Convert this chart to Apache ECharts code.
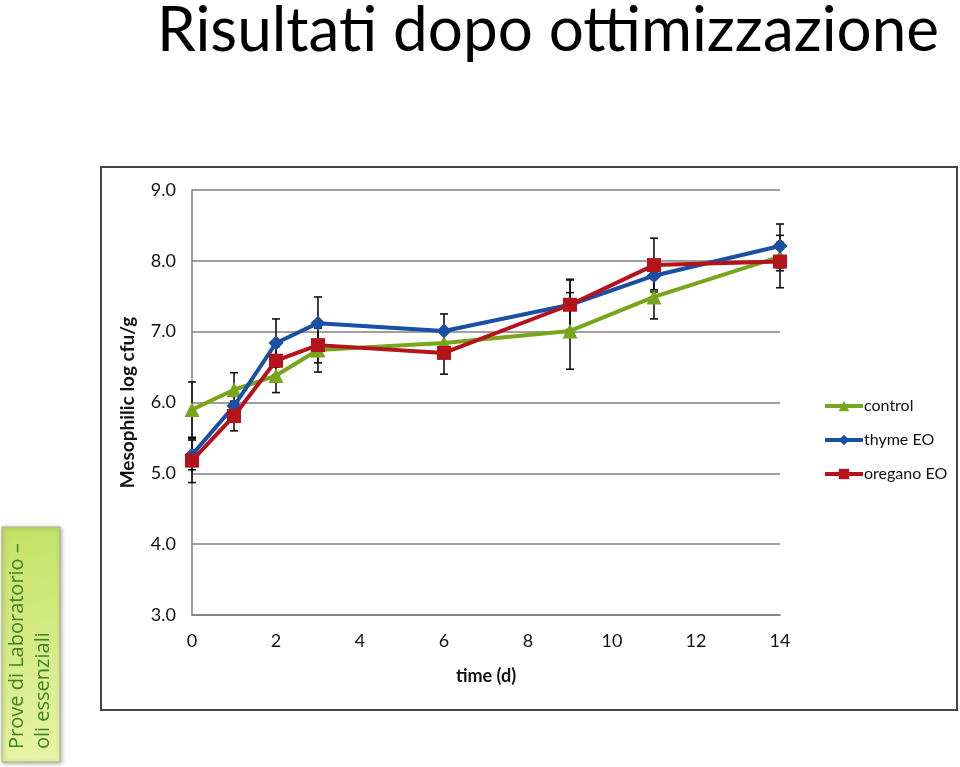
<!DOCTYPE html>
<html>
<head>
<meta charset="utf-8">
<script src="https://cdn.jsdelivr.net/npm/echarts@6/dist/echarts.min.js"></script>
<style>
html,body{margin:0;padding:0;background:#fff;}
#c{width:960px;height:767px;}
</style>
</head>
<body>
<div id="c"></div>
<script>
var days = [0, 1, 2, 3, 6, 9, 11, 14];
var controlVals = [5.90, 6.18, 6.38, 6.74, 6.84, 7.01, 7.49, 8.06];
var thymeVals   = [5.26, 5.95, 6.84, 7.12, 7.01, 7.38, 7.79, 8.21];
var oreganoVals = [5.18, 5.81, 6.59, 6.81, 6.70, 7.38, 7.94, 7.99];
var controlErr = [0.39, 0.24, 0.24, 0.31, 0.15, 0.54, 0.31, 0.20];
var thymeErr   = [0.21, 0.15, 0.34, 0.37, 0.24, 0.35, 0.20, 0.31];
var oreganoErr = [0.31, 0.21, 0.20, 0.25, 0.30, 0.36, 0.38, 0.37];
var seriesNames = ['control', 'thyme EO', 'oregano EO'];
var xTicks = [0, 2, 4, 6, 8, 10, 12, 14];
var yTicks = ['3.0', '4.0', '5.0', '6.0', '7.0', '8.0', '9.0'];

var colors = ['#77a51c', '#1a4fa6', '#b5121b'];
var symbols = ['triangle', 'diamond', 'rect'];
var symSizes = [15, 15, 14];

function pairs(vals) { return days.map(function (d, i) { return [d, vals[i]]; }); }
function errData(vals, errs) { return days.map(function (d, i) { return [d, vals[i], errs[i]]; }); }

function errSeries(vals, errs) {
  return {
    type: 'custom',
    data: errData(vals, errs),
    z: 1,
    silent: true,
    renderItem: function (params, api) {
      var x = api.value(0), y = api.value(1), e = api.value(2);
      var top = api.coord([x, y + e]);
      var bot = api.coord([x, y - e]);
      var hw = 4;
      var st = { stroke: '#111', lineWidth: 1.6 };
      return {
        type: 'group',
        children: [
          { type: 'line', shape: { x1: top[0], y1: top[1], x2: bot[0], y2: bot[1] }, style: st },
          { type: 'line', shape: { x1: top[0] - hw, y1: top[1], x2: top[0] + hw, y2: top[1] }, style: st },
          { type: 'line', shape: { x1: bot[0] - hw, y1: bot[1], x2: bot[0] + hw, y2: bot[1] }, style: st }
        ]
      };
    }
  };
}

function lineSeries(i, vals) {
  return {
    name: seriesNames[i],
    type: 'line',
    data: pairs(vals),
    z: 3 + i,
    symbol: symbols[i],
    symbolSize: symSizes[i],
    showAllSymbol: true,
    lineStyle: { color: colors[i], width: 4 },
    itemStyle: { color: colors[i] },
    emphasis: { disabled: true }
  };
}

var font = 'Lato, "Open Sans", sans-serif';
var chart = echarts.init(document.getElementById('c'), null, { renderer: 'canvas' });
chart.setOption({
  animation: false,
  backgroundColor: '#ffffff',
  color: colors,
  graphic: [
    { type: 'text', x: 157, y: 0, z: 10,
      style: { text: 'Risultati dopo ottimizzazione', font: '400 62px ' + font, fill: '#000', align: 'left', verticalAlign: 'top' } },
    { type: 'rect', shape: { x: 101, y: 167, width: 856, height: 543 },
      style: { fill: 'none', stroke: '#444', lineWidth: 2 }, z: -1 },
    { type: 'rect', shape: { x: 2, y: 527, width: 58, height: 235 },
      style: {
        fill: new echarts.graphic.LinearGradient(0, 0, 1, 1, [
          { offset: 0, color: '#c4e265' },
          { offset: 1, color: '#e8f4a8' }
        ]),
        stroke: '#a9b58c', lineWidth: 1,
        shadowBlur: 4, shadowColor: 'rgba(0,0,0,0.35)', shadowOffsetX: 1, shadowOffsetY: 1
      }, z: 0 },
    { type: 'text', x: 17, y: 749, rotation: Math.PI / 2, z: 2,
      style: { text: 'Prove di Laboratorio \u2013', font: '20px "Open Sans", sans-serif', fill: '#3b8420', align: 'left', verticalAlign: 'middle' } },
    { type: 'text', x: 43, y: 749, rotation: Math.PI / 2, z: 2,
      style: { text: 'oli essenziali', font: '20px "Open Sans", sans-serif', fill: '#3b8420', align: 'left', verticalAlign: 'middle' } }
  ],
  legend: {
    orient: 'vertical',
    left: 818,
    top: 393,
    itemWidth: 38,
    itemHeight: 13,
    itemGap: 18,
    lineStyle: { width: 4 },
    data: seriesNames,
    textStyle: { fontFamily: font, fontSize: 16, color: '#111', padding: [0, 0, 0, -4] }
  },
  grid: { left: 192, right: 180, top: 190, bottom: 152, containLabel: false },
  xAxis: {
    type: 'value',
    min: 0, max: 14, interval: 2,
    name: 'time (d)',
    nameLocation: 'middle',
    nameGap: 52,
    nameTextStyle: { fontFamily: font, fontSize: 18, fontWeight: 'bold', color: '#111' },
    axisLine: { show: true, lineStyle: { color: '#7f7f7f', width: 1.5 } },
    axisTick: { show: false },
    splitLine: { show: false },
    axisLabel: { fontFamily: font, fontSize: 18, color: '#111', margin: 17,
      formatter: function (v) { return xTicks.indexOf(v) >= 0 ? String(v) : ''; } }
  },
  yAxis: {
    type: 'value',
    min: 3, max: 9, interval: 1,
    name: 'Mesophilic log cfu/g',
    nameLocation: 'middle',
    nameGap: 55,
    nameTextStyle: { fontFamily: font, fontSize: 19, fontWeight: 'bold', color: '#111' },
    axisLine: { show: true, lineStyle: { color: '#7f7f7f', width: 1.5 } },
    axisTick: { show: false },
    splitLine: { show: true, lineStyle: { color: '#7f7f7f', width: 1.5 } },
    axisLabel: { fontFamily: font, fontSize: 18, color: '#111', margin: 16,
      formatter: function (v) { return yTicks[Math.round(v - 3)]; } }
  },
  series: [
    errSeries(controlVals, controlErr),
    errSeries(thymeVals, thymeErr),
    errSeries(oreganoVals, oreganoErr),
    lineSeries(0, controlVals),
    lineSeries(1, thymeVals),
    lineSeries(2, oreganoVals)
  ]
});
</script>
</body>
</html>
